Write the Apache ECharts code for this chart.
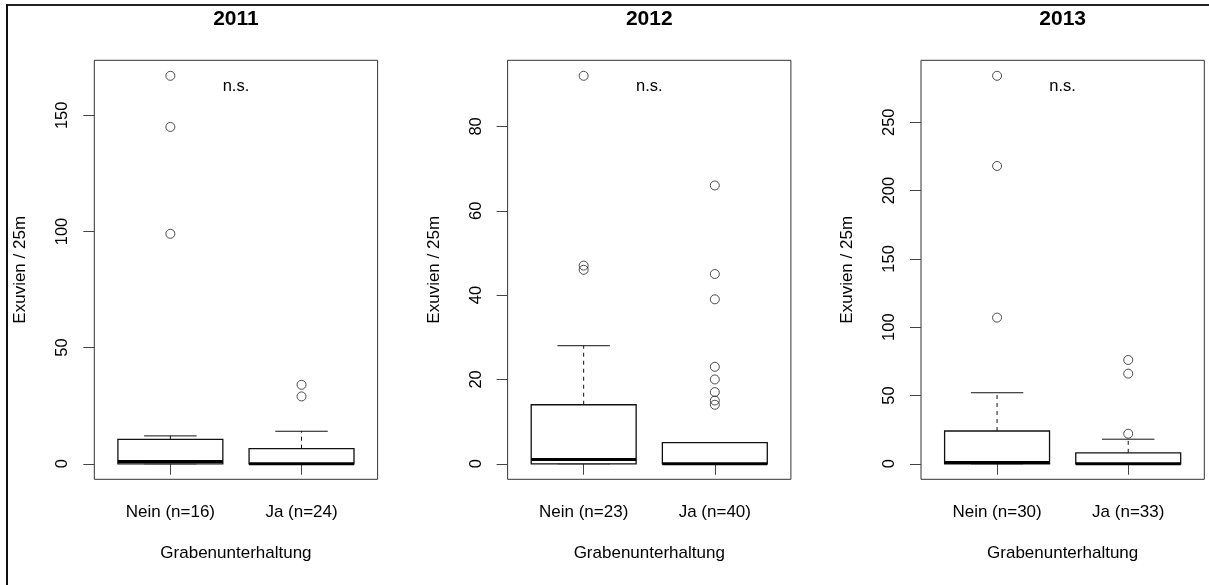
<!DOCTYPE html>
<html>
<head>
<meta charset="utf-8">
<title>Exuvien / 25m nach Grabenunterhaltung</title>
<script src="https://cdn.jsdelivr.net/npm/echarts@6/dist/echarts.min.js"></script>
<style>
  html, body { margin: 0; padding: 0; background: #fff; }
  #chart { width: 1209px; height: 585px; }
</style>
</head>
<body>
<div id="chart"></div>
<script>
// Panel titles (years)
const years = ['2011', '2012', '2013'];

// Group labels per year
const categories2011 = ['Nein (n=16)', 'Ja (n=24)'];
const categories2012 = ['Nein (n=23)', 'Ja (n=40)'];
const categories2013 = ['Nein (n=30)', 'Ja (n=33)'];

// Box statistics per group: [lower whisker, Q1, median, Q3, upper whisker]
const stats2011 = [[0, 0, 1, 10.5, 12], [0, 0, 0, 6.5, 14]];
const stats2012 = [[0, 0, 1, 14, 28], [0, 0, 0, 5, 5]];
const stats2013 = [[0, 0, 1, 24, 52], [0, 0, 0, 8, 18]];

// Outliers per group
const outliers2011 = [[167, 145, 99], [34, 29]];
const outliers2012 = [[92, 47, 46], [66, 45, 39, 23, 20, 17, 15, 14]];
const outliers2013 = [[284, 218, 107], [76, 66, 22]];

// Y-axis tick values per year
const yTicks2011 = [0, 50, 100, 150];
const yTicks2012 = [0, 20, 40, 60, 80];
const yTicks2013 = [0, 50, 100, 150, 200, 250];

// Significance note
const sigText = 'n.s.';
const yName = 'Exuvien / 25m';
const xName = 'Grabenunterhaltung';

const panels = [
  { cats: categories2011, stats: stats2011, outs: outliers2011, ticks: yTicks2011 },
  { cats: categories2012, stats: stats2012, outs: outliers2012, ticks: yTicks2012 },
  { cats: categories2013, stats: stats2013, outs: outliers2013, ticks: yTicks2013 }
];

const FONT = "'Liberation Sans', Arial, sans-serif";
const gridLefts = [94.3, 507.6, 921];
const gridWidth = 283.3;
const gridTop = 60.3;
const gridHeight = 419;

const grid = [], xAxis = [], yAxis = [], series = [], graphic = [];

panels.forEach((p, i) => {
  // data extent, padded by 4% on both sides
  let hi = 0, lo = Infinity;
  p.stats.forEach(s => { hi = Math.max(hi, ...s); lo = Math.min(lo, ...s); });
  p.outs.forEach(o => { if (o.length) { hi = Math.max(hi, ...o); lo = Math.min(lo, ...o); } });
  const pad = (hi - lo) * 0.04;

  grid.push({
    left: gridLefts[i], top: gridTop, width: gridWidth, height: gridHeight,
    show: true, borderColor: '#333', borderWidth: 1, backgroundColor: 'transparent'
  });

  xAxis.push({
    type: 'value', gridIndex: i, min: 0.42, max: 2.58,
    axisLine: { show: false },
    splitLine: { show: false },
    axisTick: { show: true, customValues: [1, 2], length: 11, lineStyle: { color: '#444', width: 1 } },
    axisLabel: {
      customValues: [1, 2], margin: 25,
      formatter: v => p.cats[Math.round(v) - 1],
      color: '#000', fontSize: 17, fontFamily: FONT
    },
    name: xName, nameLocation: 'middle', nameGap: 66,
    nameTextStyle: { color: '#000', fontSize: 17, fontFamily: FONT }
  });

  yAxis.push({
    type: 'value', gridIndex: i, min: lo - pad, max: hi + pad,
    axisLine: { show: false },
    splitLine: { show: false },
    axisTick: { show: true, customValues: p.ticks, length: 11, lineStyle: { color: '#444', width: 1 } },
    axisLabel: {
      customValues: p.ticks, rotate: 90, margin: 23,
      color: '#000', fontSize: 16.5, fontFamily: FONT
    },
    name: yName, nameLocation: 'middle', nameRotate: 90, nameGap: 65,
    nameTextStyle: { color: '#000', fontSize: 17, fontFamily: FONT }
  });

  // Box-and-whisker glyphs
  series.push({
    type: 'custom', xAxisIndex: i, yAxisIndex: i,
    encode: { x: 0, y: [1, 2, 3, 4, 5] },
    data: p.stats.map((s, k) => [k + 1, ...s]),
    renderItem: (params, api) => {
      const x = api.value(0);
      const wLo = api.value(1), q1 = api.value(2), med = api.value(3), q3 = api.value(4), wHi = api.value(5);
      const half = 0.4, capHalf = 0.2;
      const tl = api.coord([x - half, q3]);
      const br = api.coord([x + half, q1]);
      const m1 = api.coord([x - half, med]);
      const m2 = api.coord([x + half, med]);
      const c = api.coord([x, 0]);
      const yHi = api.coord([x, wHi])[1];
      const yLo = api.coord([x, wLo])[1];
      const cl = api.coord([x - capHalf, 0])[0];
      const cr = api.coord([x + capHalf, 0])[0];
      const ink = '#111';
      return {
        type: 'group',
        children: [
          { type: 'line', shape: { x1: c[0], y1: tl[1], x2: c[0], y2: yHi },
            style: { stroke: ink, lineWidth: 1, lineDash: [4, 4] } },
          { type: 'line', shape: { x1: c[0], y1: br[1], x2: c[0], y2: yLo },
            style: { stroke: ink, lineWidth: 1, lineDash: [4, 4] } },
          { type: 'line', shape: { x1: cl, y1: yHi, x2: cr, y2: yHi },
            style: { stroke: ink, lineWidth: 1 } },
          { type: 'line', shape: { x1: cl, y1: yLo, x2: cr, y2: yLo },
            style: { stroke: ink, lineWidth: 1 } },
          { type: 'rect', shape: { x: tl[0], y: tl[1], width: br[0] - tl[0], height: br[1] - tl[1] },
            style: { fill: '#fff', stroke: ink, lineWidth: 1.3 } },
          { type: 'line', shape: { x1: m1[0], y1: m1[1], x2: m2[0], y2: m2[1] },
            style: { stroke: '#000', lineWidth: 3 } }
        ]
      };
    },
    z: 2
  });

  // Outlying points
  const pts = [];
  p.outs.forEach((o, k) => o.forEach(v => pts.push([k + 1, v])));
  series.push({
    type: 'scatter', xAxisIndex: i, yAxisIndex: i,
    data: pts, symbol: 'circle', symbolSize: 9,
    itemStyle: { color: 'rgba(255,255,255,0)', borderColor: '#222', borderWidth: 1 },
    emphasis: { disabled: true },
    z: 3
  });

  const cx = gridLefts[i] + gridWidth / 2;
  graphic.push({
    type: 'text', x: cx, y: 19,
    style: { text: years[i], textAlign: 'center', textVerticalAlign: 'middle',
             font: 'bold 21px ' + FONT, fill: '#000' }
  });
  graphic.push({
    type: 'text', x: cx, y: 86,
    style: { text: sigText, textAlign: 'center', textVerticalAlign: 'middle',
             font: '16.5px ' + FONT, fill: '#000' }
  });
});

// Outer frame (top and left edges)
graphic.push({ type: 'line', shape: { x1: 6, y1: 5, x2: 1209, y2: 5 },
               style: { stroke: '#222', lineWidth: 2 } });
graphic.push({ type: 'line', shape: { x1: 7, y1: 4, x2: 7, y2: 585 },
               style: { stroke: '#111', lineWidth: 2 } });

const chart = echarts.init(document.getElementById('chart'), null, { renderer: 'canvas' });
chart.setOption({
  animation: false,
  backgroundColor: '#fff',
  grid, xAxis, yAxis, series, graphic
});
</script>
</body>
</html>
